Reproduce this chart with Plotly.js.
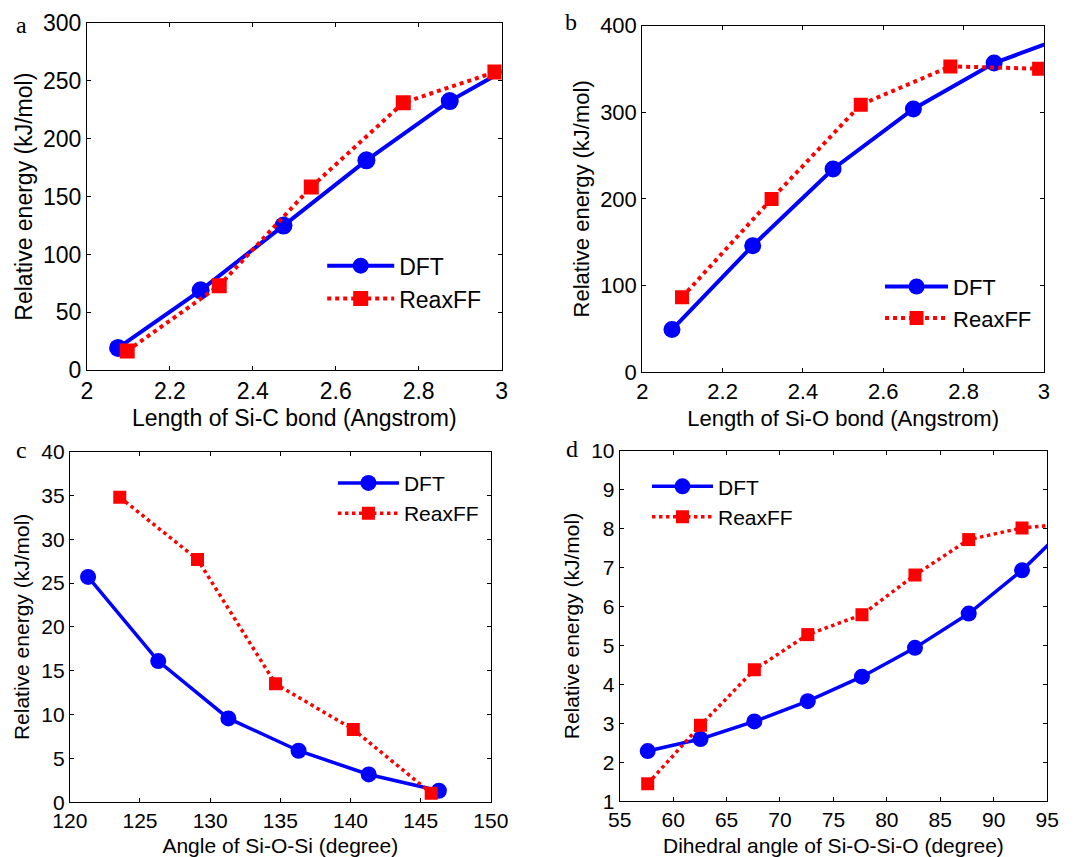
<!DOCTYPE html>
<html>
<head>
<meta charset="utf-8">
<script src="https://cdn.plot.ly/plotly-3.0.1.min.js"></script>
<style>html,body{margin:0;padding:0;background:#fff}#chart{width:1074px;height:857px}</style>
</head>
<body>
<div id="chart"></div>
<script>
// Panel a: Si-C bond stretch
const aDftX = [2.075, 2.274, 2.474, 2.674, 2.875, 3.075];
const aDftY = [19.3, 69.1, 125.0, 181.4, 232.6, 273.0];
const aRxX = [2.097, 2.319, 2.541, 2.763, 2.984];
const aRxY = [16.7, 73.1, 158.4, 231.2, 257.7];
// Panel b: Si-O bond stretch
const bDftX = [2.074, 2.275, 2.475, 2.675, 2.876, 3.076];
const bDftY = [48.9, 145.9, 234.5, 303.8, 356.9, 391.0];
const bRxX = [2.099, 2.322, 2.544, 2.767, 2.988];
const bRxY = [86.2, 199.8, 308.8, 353.0, 350.3];
// Panel c: Si-O-Si angle
const cDftX = [121.3, 126.3, 131.3, 136.3, 141.3, 146.3];
const cDftY = [25.7, 16.1, 9.56, 5.87, 3.16, 1.30];
const cRxX = [123.56, 129.1, 134.66, 140.2, 145.75];
const cRxY = [34.8, 27.7, 13.5, 8.3, 1.03];
// Panel d: Si-O-Si-O dihedral
const dDftX = [57.62, 62.56, 67.6, 72.6, 77.67, 82.63, 87.66, 92.65, 97.65];
const dDftY = [2.29, 2.60, 3.05, 3.57, 4.20, 4.94, 5.82, 6.93, 8.27];
const dRxX = [57.62, 62.56, 67.6, 72.6, 77.67, 82.63, 87.66, 92.65, 97.65];
const dRxY = [1.45, 2.95, 4.38, 5.28, 5.79, 6.81, 7.72, 8.02, 8.14];

const seriesNames = ['DFT', 'ReaxFF'];
const panelLetters = ['a', 'b', 'c', 'd'];
const xTitles = ['Length of Si-C bond (Angstrom)', 'Length of Si-O bond (Angstrom)',
                 'Angle of Si-O-Si (degree)', 'Dihedral angle of Si-O-Si-O (degree)'];
const yTitle = 'Relative energy (kJ/mol)';

const FONT = 'Liberation Sans, Arial, Helvetica, sans-serif';
// per-panel scale (the composite figure's panels are scaled slightly differently)
const fs = {'': 23, '2': 22, '3': 21, '4': 21};
const circ = {'': 18, '2': 17, '3': 16, '4': 16};
const sq = {'': 15, '2': 14, '3': 13, '4': 13};
const lw = {'': 4, '2': 4, '3': 3.5, '4': 3.5};

function dft(x, y, ax, leg) {
  return {x: x, y: y, xaxis: 'x' + ax, yaxis: 'y' + ax, name: seriesNames[0], legend: leg,
    mode: 'lines+markers', line: {color: '#0000ff', width: lw[ax]},
    marker: {symbol: 'circle', size: circ[ax], color: '#0000ff'}};
}
function rx(x, y, ax, leg) {
  return {x: x, y: y, xaxis: 'x' + ax, yaxis: 'y' + ax, name: seriesNames[1], legend: leg,
    mode: 'lines+markers', line: {color: '#ff0000', width: lw[ax], dash: 'dot'},
    marker: {symbol: 'square', size: sq[ax], color: '#ff0000'}};
}
const traces = [
  dft(aDftX, aDftY, '', 'legend'), rx(aRxX, aRxY, '', 'legend'),
  dft(bDftX, bDftY, '2', 'legend2'), rx(bRxX, bRxY, '2', 'legend2'),
  dft(cDftX, cDftY, '3', 'legend3'), rx(cRxX, cRxY, '3', 'legend3'),
  dft(dDftX, dDftY, '4', 'legend4'), rx(dRxX, dRxY, '4', 'legend4')
];

function xax(domain, range, dtick, anchor, title, size) {
  return {domain: domain, range: range, dtick: dtick, anchor: anchor,
    ticks: 'inside', ticklen: 4, tickwidth: 1, tickcolor: '#000', mirror: 'ticks',
    showline: true, linecolor: '#000', linewidth: 1, showgrid: false, zeroline: false,
    tickfont: {family: FONT, size: size, color: '#000'},
    title: {text: title, font: {family: FONT, size: size, color: '#000'}, standoff: 7}};
}
function yax(domain, range, dtick, anchor, size, standoff) {
  return {domain: domain, range: range, dtick: dtick, anchor: anchor,
    ticks: 'inside', ticklen: 4, tickwidth: 1, tickcolor: '#000', mirror: 'ticks',
    showline: true, linecolor: '#000', linewidth: 1, showgrid: false, zeroline: false,
    tickfont: {family: FONT, size: size, color: '#000'},
    title: {text: yTitle, font: {family: FONT, size: size, color: '#000'}, standoff: standoff}};
}
function leg(x, y, size, w) {
  return {x: x, y: y, xanchor: 'left', yanchor: 'top', bgcolor: 'rgba(0,0,0,0)', borderwidth: 0,
    font: {family: FONT, size: size, color: '#000'}, itemwidth: w};
}

const layout = {
  width: 1074, height: 857,
  margin: {l: 0, r: 0, t: 0, b: 0},
  paper_bgcolor: '#fff', plot_bgcolor: '#fff',
  showlegend: true,
  xaxis: xax([0.081, 0.467], [2, 3], 0.2, 'y', xTitles[0], fs['']),
  yaxis: yax([0.568, 0.973], [0, 300], 50, 'x', fs[''], 3),
  xaxis2: xax([0.598, 0.972], [2, 3], 0.2, 'y2', xTitles[1], fs['2']),
  yaxis2: yax([0.566, 0.970], [0, 400], 100, 'x2', fs['2'], 4),
  xaxis3: xax([0.065, 0.457], [120, 150], 5, 'y3', xTitles[2], fs['3']),
  yaxis3: yax([0.064, 0.473], [0, 40], 5, 'x3', fs['3'], 5),
  xaxis4: xax([0.577, 0.975], [55, 95], 5, 'y4', xTitles[3], fs['4']),
  yaxis4: yax([0.065, 0.474], [1, 10], 1, 'x4', fs['4'], 5),
  legend: leg(0.300, 0.715, fs[''], 67),
  legend2: leg(0.8194, 0.690, fs['2'], 63),
  legend3: leg(0.310, 0.460, fs['3'], 61),
  legend4: leg(0.6024, 0.456, fs['4'], 61),
  annotations: [
    {text: panelLetters[0], x: 21, y: 25},
    {text: panelLetters[1], x: 571, y: 22},
    {text: panelLetters[2], x: 21, y: 450},
    {text: panelLetters[3], x: 572, y: 449}
  ].map(a => ({text: a.text, x: a.x / 1074, y: 1 - a.y / 857, xref: 'paper', yref: 'paper',
    xanchor: 'center', yanchor: 'middle', showarrow: false,
    font: {family: 'Liberation Serif, Times New Roman, serif', size: 24, color: '#000'}}))
};

Plotly.newPlot('chart', traces, layout, {displayModeBar: false, staticPlot: true});
</script>
</body>
</html>
